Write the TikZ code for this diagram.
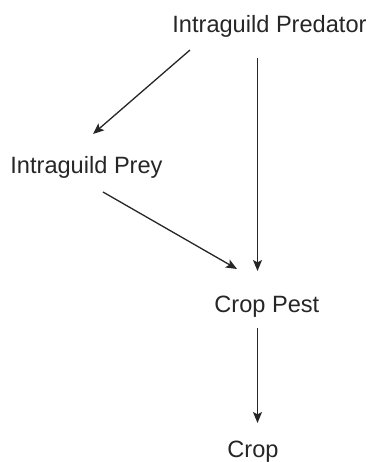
\documentclass[tikz,border=0pt]{standalone}
\usepackage{fontspec}
\setmainfont{Liberation Sans}
\usetikzlibrary{arrows.meta}
\begin{document}
\begin{tikzpicture}[x=0.5pt,y=-0.5pt,
  lbl/.style={anchor=base west,inner sep=0pt,font=\fontsize{11.8}{14}\selectfont,text=black!85},
  arr/.style={line width=0.65pt,draw=black!85,-{Stealth[length=5.5pt,width=4.5pt,inset=1.2pt]}}]
\useasboundingbox (0,0) rectangle (370,462);
\node[lbl] (pred) at (172,32) {Intraguild Predator};
\node[lbl] (prey) at (10,173) {Intraguild Prey};
\node[lbl] (pest) at (214,312) {Crop Pest};
\node[lbl] (crop) at (227,457) {Crop};
\draw[arr] ([shift={(18,18)}]pred.base west) -- ([shift={(83,-39)}]prey.base west);
\draw[arr] ([shift={(85.5,26)}]pred.base west) -- ([shift={(43.5,-41)}]pest.base west);
\draw[arr] ([shift={(93,19)}]prey.base west) -- ([shift={(23,-43)}]pest.base west);
\draw[arr] ([shift={(43.5,16)}]pest.base west) -- ([shift={(30.5,-34)}]crop.base west);
\end{tikzpicture}
\end{document}
